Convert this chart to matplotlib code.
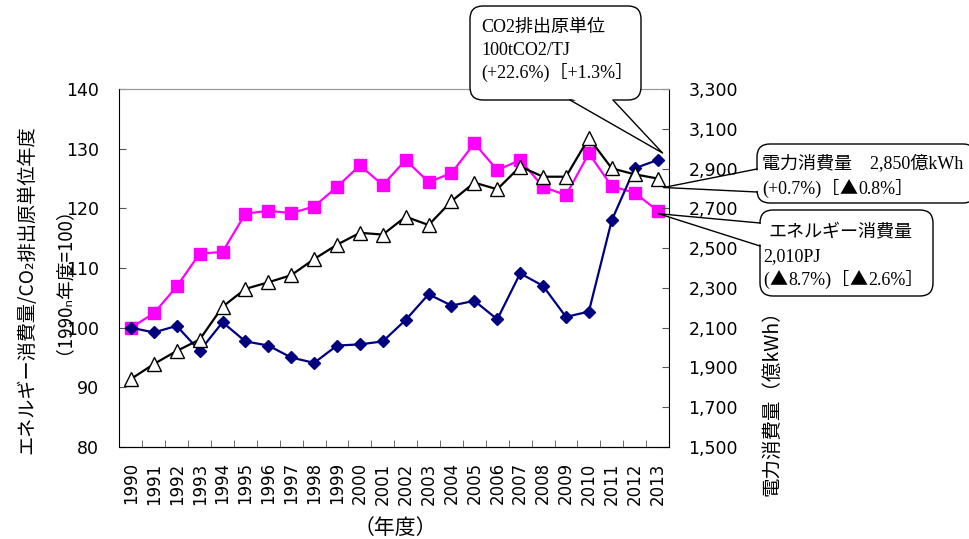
import matplotlib
matplotlib.use("Agg")
import matplotlib.pyplot as plt
from matplotlib.patches import FancyBboxPatch, Polygon
from matplotlib.lines import Line2D
from matplotlib.transforms import IdentityTransform
from matplotlib.ticker import FuncFormatter, FixedLocator

# values
years = list(range(1990, 2014))
# energy consumption index (1990 = 100), left axis
energy = [100.0, 102.4, 106.9, 112.4, 112.7, 119.1, 119.6, 119.2, 120.3, 123.6,
          127.2, 123.9, 128.1, 124.4, 125.9, 130.9, 126.4, 128.1, 123.6, 122.2,
          129.2, 123.7, 122.6, 119.6]
# CO2 emission intensity index (1990 = 100), left axis
co2 = [100.0, 99.2, 100.3, 96.1, 100.9, 97.7, 97.0, 95.0, 94.1, 97.0,
       97.2, 97.7, 101.3, 105.6, 103.7, 104.5, 101.4, 109.1, 107.0, 101.8,
       102.7, 118.0, 126.7, 128.1]
# electricity consumption (100 million kWh), right axis
power = [1842, 1917, 1983, 2040, 2205, 2295, 2328, 2364, 2445, 2517,
         2577, 2568, 2658, 2616, 2736, 2829, 2796, 2910, 2859, 2859,
         3054, 2901, 2871, 2850]
left_ticks = [80, 90, 100, 110, 120, 130, 140]
right_ticks = [1500, 1700, 1900, 2100, 2300, 2500, 2700, 2900, 3100, 3300]

W, H = 970, 539
plt.rcParams['font.family'] = ['DejaVu Sans', 'Noto Sans CJK JP']
gothic = ['Noto Sans CJK JP', 'DejaVu Sans']
serif = ['Liberation Serif', 'Noto Sans CJK JP']

fig = plt.figure(figsize=(W / 100, H / 100), dpi=100)
ax = fig.add_axes([119.5 / W, 1 - 447 / H, (669 - 119.5) / W, (447 - 89) / H])
ax2 = ax.twinx()

x = list(range(len(years)))
ax.plot(x, energy, color="#FF00FF", marker="s", ms=8, lw=1.6, zorder=3)
ax.plot(x, co2, color="#000080", marker="D", ms=6.5, lw=1.6, zorder=4)
ax2.plot(x, power, color="black", marker="^", ms=9.5, mfc="white", mec="black",
         mew=1.0, lw=1.6)

ax.set_xlim(-0.5, len(years) - 0.5)
ax.set_ylim(left_ticks[0], left_ticks[-1])
ax.yaxis.set_major_locator(FixedLocator(left_ticks))
ax2.set_ylim(right_ticks[0], right_ticks[-1])
ax2.yaxis.set_major_locator(FixedLocator(right_ticks))
ax2.yaxis.set_major_formatter(FuncFormatter(lambda v, p: f"{v:,.0f}"))

ax.set_xticks(x)
ax.set_xticklabels([str(y) for y in years], rotation=90, fontsize=12)
ax.set_xticks([i + 0.5 for i in x[:-1]], minor=True)
ax.tick_params(axis='x', which='major', length=0, pad=11)
ax.tick_params(axis='x', which='minor', direction='in', length=5, color='#555555')
ax.tick_params(axis='y', direction='in', length=5, labelsize=12.5, pad=15, color='#555555')
ax2.tick_params(axis='y', direction='in', length=5, labelsize=12.5, pad=14, color='#555555')

for a in (ax, ax2):
    a.spines['top'].set_color('#999999')
ax.spines['right'].set_visible(False)
ax2.spines['left'].set_visible(False)

idt = IdentityTransform()


def px(xp, yp):
    return xp, H - yp


# axis titles
fig.text(*px(27, 290), "エネルギー消費量/CO₂排出原単位年度", rotation=90,
         ha='center', va='center', fontsize=13.8, family=gothic, transform=idt)
fig.text(*px(54, 271), "（1990ₙ年度=100）", rotation=90,
         ha='center', va='center', fontsize=13.5, family=gothic, transform=idt)
fig.text(*px(772, 398), "電力消費量（億kWh）", rotation=90,
         ha='center', va='center', fontsize=14, family=gothic, transform=idt)
fig.text(*px(395, 528), "（年度）", ha='center', va='center', fontsize=15,
         family=gothic, transform=idt)


def callout(box, bases, tip):
    x0, y0, x1, y1 = box
    fig.add_artist(FancyBboxPatch(px(x0, y1), x1 - x0, y1 - y0,
                                  boxstyle="round,pad=0,rounding_size=13",
                                  fc="white", ec="black", lw=1.0,
                                  transform=idt, zorder=10))
    (bx0, by0), (bx1, by1) = bases
    # inset the white cover a bit into the box so the border is hidden
    if by0 == by1:
        cov = [px(bx0 + 1, by0 - 2), px(bx1 - 1, by1 - 2)]
    else:
        cov = [px(bx0 + 2, by0 + 1), px(bx1 + 2, by1 - 1)]
    fig.add_artist(Polygon([cov[0], tip, cov[1]], closed=True, fc="white",
                           ec="none", transform=idt, zorder=11))
    fig.add_artist(Line2D([bx0, tip[0], bx1], [H - by0, tip[1], H - by1],
                          color="black", lw=1.0, transform=idt, zorder=12))


def tip_of(axis, i, v, dx, dy):
    xd, yd = axis.transData.transform((i, v))
    return xd + dx, yd - dy


last = len(years) - 1
callout((470, 6, 641, 100), [(570, 100), (613, 100)],
        tip_of(ax, last, co2[last], 5, -7))
callout((757, 144, 976, 203), [(757, 169), (757, 192)],
        tip_of(ax2, last, power[last], 6, 9))
callout((760, 210, 933, 296), [(760, 223), (760, 246)],
        tip_of(ax, last, energy[last], 1, 3))

renderer = fig.canvas.get_renderer()


def rich_text(tx, ty, s):
    # serif text, but the ▲ comes from the CJK font so it has full width
    parts = []
    for i, piece in enumerate(s.split("▲")):
        if i > 0:
            parts.append(("▲", gothic))
        if piece:
            parts.append((piece, serif))
    cx = tx
    for piece, fam in parts:
        t = fig.text(cx, H - ty - 5, piece, ha='left', va='baseline',
                     fontsize=13, family=fam, transform=idt, zorder=13)
        cx += t.get_window_extent(renderer).width + (1 if piece == "▲" else 0)


box_text = [
    (481, 27, "CO2排出原単位"),
    (481, 50, "100tCO2/TJ"),
    (481, 73, "(+22.6%)［+1.3%］"),
    (762, 164, "電力消費量　2,850億kWh"),
    (762, 189, "(+0.7%)［▲0.8%］"),
    (768, 232, "エネルギー消費量"),
    (763, 256, "2,010PJ"),
    (763, 280, "(▲8.7%)［▲2.6%］"),
]
for tx, ty, s in box_text:
    rich_text(tx, ty, s)

fig.savefig("out.png", dpi=100)
